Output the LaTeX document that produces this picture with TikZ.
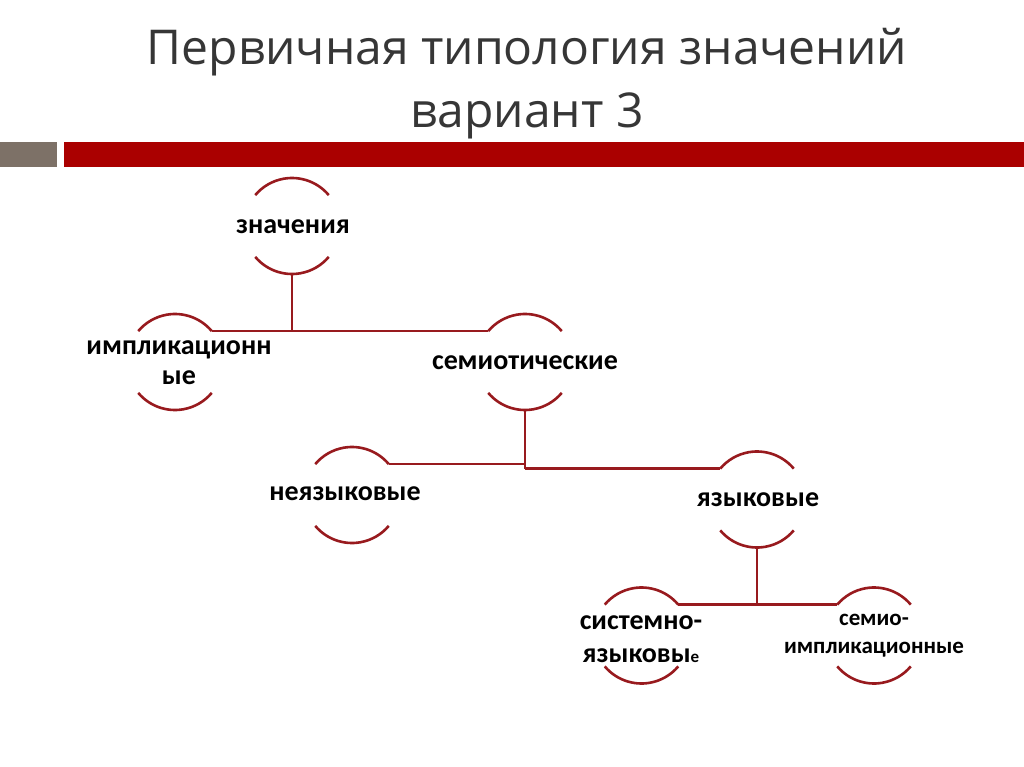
\documentclass[tikz,border=0pt]{standalone}
\usepackage{fontspec}
\setmainfont{Carlito}
\newfontfamily\titlefont{Open Sans}
\begin{document}
\definecolor{arcred}{HTML}{981A1E}
\definecolor{barred}{HTML}{AA0000}
\definecolor{bargray}{HTML}{7D7167}
\definecolor{titlegray}{HTML}{363636}
\begin{tikzpicture}[x=1pt,y=1pt,
  ring/.style={circle,minimum size=96pt,inner sep=0pt,outer sep=0pt},
  arcline/.style={draw=arcred,line width=2.6pt},
  conn/.style={draw=arcred,line width=2.6pt},
  lbl/.style={font=\bfseries\fontsize{28}{31}\selectfont,align=center,inner sep=0pt,text=black},
  lblsmall/.style={font=\bfseries\fontsize{23}{28}\selectfont,align=center,inner sep=0pt,text=black}]
\useasboundingbox (0,0) rectangle (1024,-767);
\fill[white] (0,0) rectangle (1024,-767);
% title
\node[font=\titlefont\fontsize{48}{63}\selectfont,text=titlegray,align=center] (title) at (527,-84)
  {Первичная типология значений\\вариант 3};
% bar
\fill[bargray] (0,-142) rectangle (57,-167);
\fill[barred] (64,-142) rectangle (1024,-167);
% rings
\node[ring] (zn) at (292,-226) {};
\node[ring] (im) at (175,-362) {};
\node[ring] (se) at (525,-362) {};
\node[ring] (ny) at (352,-495) {};
\node[ring] (yz) at (757,-499.5) {};
\node[ring] (si) at (641.5,-635.5) {};
\node[ring] (sm) at (874,-635.5) {};
\foreach \n in {zn,im,se,ny,yz,si,sm}{
  \draw[arcline] (\n.40) arc[start angle=40,end angle=140,radius=48pt];
  \draw[arcline] (\n.220) arc[start angle=220,end angle=320,radius=48pt];
}
% labels
\node[lbl] (zn-t) at (293,-227) {значения};
\node[lbl,font=\bfseries\fontsize{28}{30}\selectfont] (im-t) at (179,-363) {импликационн\\ые};
\node[lbl] (se-t) at (525,-363) {семиотические};
\node[lbl] (ny-t) at (345,-494) {неязыковые};
\node[lbl] (yz-t) at (758,-500) {языковые};
\node[lbl,font=\bfseries\fontsize{28}{33}\selectfont] (si-t) at (641,-639) {системно-\\языковы{\fontsize{17}{17}\selectfont е}};
\node[lblsmall] (sm-t) at (874,-636) {семио-\\импликационные};
% connectors
\draw[conn] (zn.south) -- (zn.south |- im.40);
\draw[conn] (im.40) -- (se.140);
\draw[conn] (se.south) -- (se.south |- yz.140);
\draw[conn] (ny.40) -- (ny.40 -| se.south);
\draw[conn] (se.south |- yz.140) -- (yz.140);
\draw[conn] (yz.south) -- (yz.south |- si.40);
\draw[conn] (si.40) -- (sm.140);
\end{tikzpicture}
\end{document}
